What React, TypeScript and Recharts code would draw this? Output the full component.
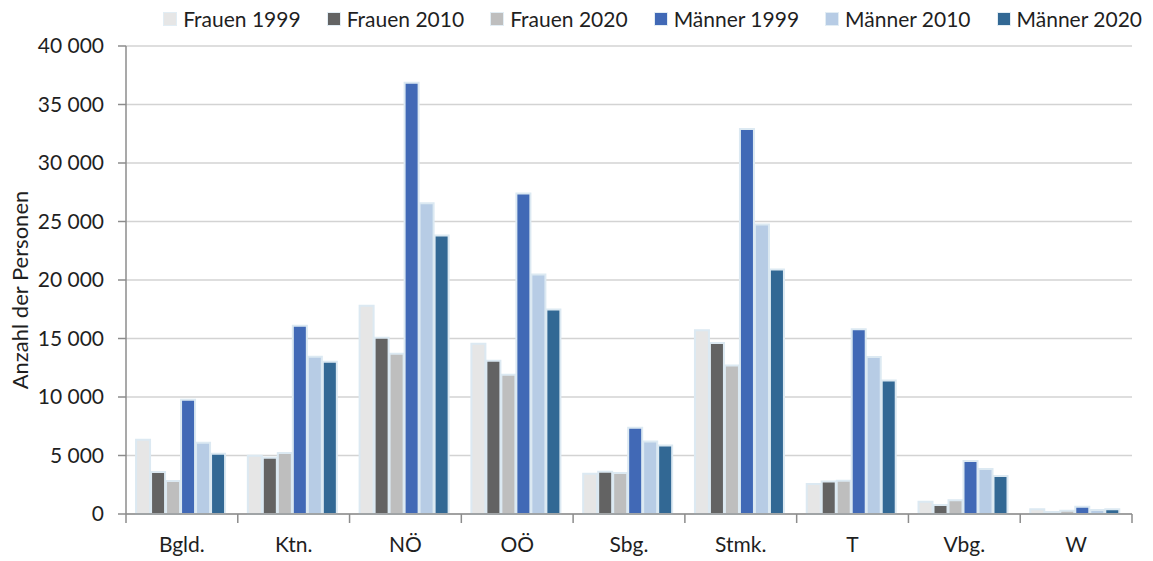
import React from 'react';
import {
  BarChart,
  Bar,
  XAxis,
  YAxis,
  CartesianGrid,
} from 'recharts';

// Bundesländer
const regions = ['Bgld.', 'Ktn.', 'NÖ', 'OÖ', 'Sbg.', 'Stmk.', 'T', 'Vbg.', 'W'];

// values (persons)
const frauen1999 = [6350, 4970, 17800, 14550, 3430, 15700, 2570, 1050, 400];
const frauen2010 = [3600, 4800, 15070, 13100, 3620, 14620, 2770, 770, 180];
const frauen2020 = [2830, 5220, 13700, 11900, 3510, 12700, 2850, 1170, 280];
const maenner1999 = [9760, 16100, 36850, 27400, 7370, 32900, 15790, 4540, 630];
const maenner2010 = [6080, 13450, 26550, 20470, 6190, 24750, 13420, 3850, 350];
const maenner2020 = [5140, 13020, 23800, 17470, 5850, 20900, 11420, 3250, 400];

const yTicks = [0, 5000, 10000, 15000, 20000, 25000, 30000, 35000, 40000];

const data = regions.map((name, i) => ({
  name,
  f1999: frauen1999[i],
  f2010: frauen2010[i],
  f2020: frauen2020[i],
  m1999: maenner1999[i],
  m2010: maenner2010[i],
  m2020: maenner2020[i],
}));

const series = [
  { key: 'f1999', label: 'Frauen 1999', color: '#E6E6E6' },
  { key: 'f2010', label: 'Frauen 2010', color: '#636363' },
  { key: 'f2020', label: 'Frauen 2020', color: '#BEBEBE' },
  { key: 'm1999', label: 'Männer 1999', color: '#4169B6' },
  { key: 'm2010', label: 'Männer 2010', color: '#B7CCE5' },
  { key: 'm2020', label: 'Männer 2020', color: '#326894' },
];

const FONT = 'Lato, "Open Sans", sans-serif';
const W = 1153;
const H = 561;
const M = { top: 46, right: 21, bottom: 7, left: 0 };
const Y_AXIS_W = 126;
const BAND = (W - M.left - M.right - Y_AXIS_W) / regions.length;

const fmt = (v: number) =>
  v >= 1000 ? `${Math.floor(v / 1000)} ${String(v % 1000).padStart(3, '0')}` : `${v}`;

// excel style: tick marks between categories, label centred
const XTick = (props: any) => {
  const { x, y, payload, index } = props;
  return (
    <g>
      <line x1={x - BAND / 2} x2={x - BAND / 2} y1={y} y2={y + 9} stroke='#8C8C8C' strokeWidth={1.5} />
      {index === regions.length - 1 && (
        <line x1={x + BAND / 2} x2={x + BAND / 2} y1={y} y2={y + 9} stroke='#8C8C8C' strokeWidth={1.5} />
      )}
      <text x={x} y={y + 38} textAnchor='middle' fontSize={21} fill='#1F1F1F' fontFamily={FONT}>
        {payload.value}
      </text>
    </g>
  );
};

const YLabel = (props: any) => {
  const vb = props.viewBox || {};
  const cx = 19;
  const cy = (vb.y ?? M.top) + (vb.height ?? 468) / 2 + 10;
  return (
    <text
      x={cx}
      y={cy}
      transform={`rotate(-90, ${cx}, ${cy})`}
      textAnchor='middle'
      dominantBaseline='central'
      fontSize={22}
      fill='#1F1F1F'
      fontFamily={FONT}
    >
      Anzahl der Personen
    </text>
  );
};

const LegendBox = () => (
  <div
    style={{
      position: 'absolute',
      top: 6,
      right: 11,
      display: 'flex',
      gap: 26,
      fontFamily: FONT,
      fontSize: 21,
      color: '#1F1F1F',
      whiteSpace: 'nowrap',
    }}
  >
    {series.map((s) => (
      <div key={s.key} style={{ display: 'flex', alignItems: 'center', gap: 6 }}>
        <span
          style={{
            width: 12,
            height: 12,
            background: s.color,
            border: '1px solid #E2EDF4',
            display: 'inline-block',
          }}
        />
        <span>{s.label}</span>
      </div>
    ))}
  </div>
);

const App = () => {
  return (
    <div style={{ position: 'absolute', left: 0, top: 0, width: W, height: H, background: '#fff' }}>
      <BarChart
        width={W}
        height={H}
        data={data}
        margin={M}
        barCategoryGap='9%'
        barGap={1}
      >
        <CartesianGrid horizontal vertical={false} stroke='#D3D3D3' strokeWidth={1.5} />
        <XAxis
          dataKey='name'
          height={40}
          axisLine={{ stroke: '#8C8C8C', strokeWidth: 1.5 }}
          tickLine={false}
          tickSize={0}
          tickMargin={0}
          tick={<XTick />}
          interval={0}
        />
        <YAxis
          width={Y_AXIS_W}
          domain={[0, 40000]}
          ticks={yTicks}
          interval={0}
          tickFormatter={fmt}
          axisLine={{ stroke: '#8C8C8C', strokeWidth: 1.5 }}
          tickLine={{ stroke: '#8C8C8C', strokeWidth: 1.5 }}
          tickSize={8}
          tickMargin={14}
          tick={{ fontSize: 21, fill: '#1F1F1F', fontFamily: FONT }}
          label={<YLabel />}
        />
        {series.map((s) => (
          <Bar
            key={s.key}
            dataKey={s.key}
            name={s.label}
            fill={s.color}
            stroke='#DCE9F2'
            strokeWidth={2}
            isAnimationActive={false}
          />
        ))}
      </BarChart>
      <LegendBox />
    </div>
  );
};

export default App;
